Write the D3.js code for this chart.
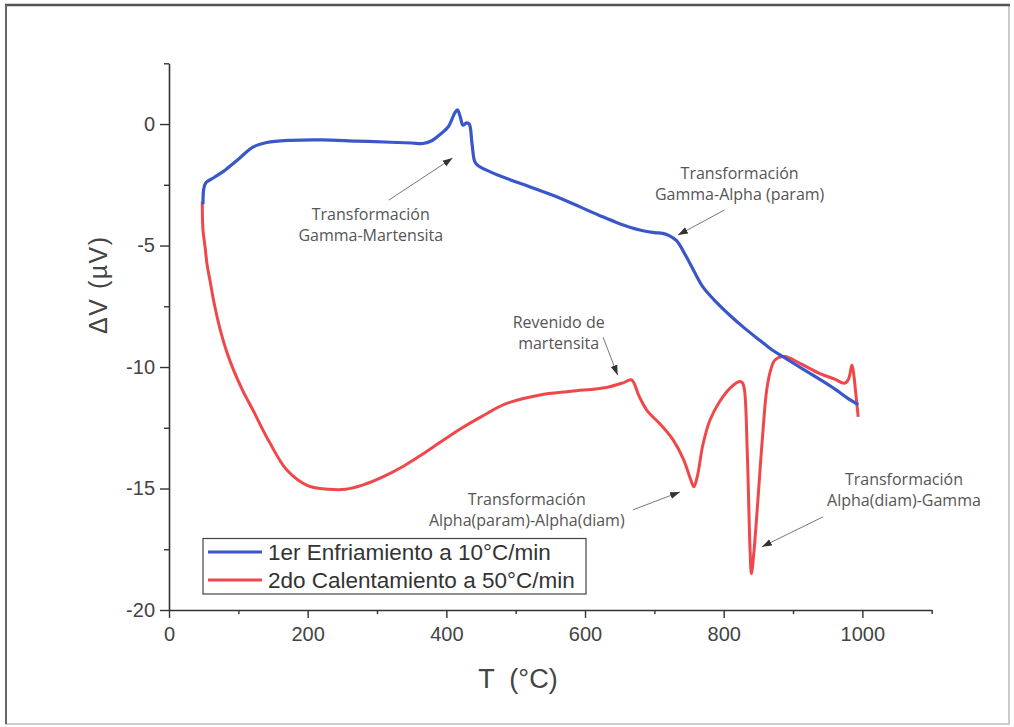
<!DOCTYPE html>
<html>
<head>
<meta charset="utf-8">
<script src="https://cdn.jsdelivr.net/npm/d3@7"></script>
<style>
  html, body { margin: 0; padding: 0; background: #fff; }
  svg { display: block; }
</style>
</head>
<body>
<svg id="chart" width="1014" height="727"></svg>
<script>
// Series: temperature T (°C) and signal ΔV (µV)
const cooling = [
  [49,-3.3],[50,-2.7],[53,-2.42],[65,-2.2],[78,-1.96],[100,-1.45],[121,-0.95],[141,-0.76],
  [175,-0.67],[220,-0.65],[270,-0.7],[320,-0.75],[350,-0.78],[366,-0.8],[378,-0.7],[390,-0.45],
  [403,-0.1],[412,0.45],[416,0.58],[420,0.3],[424,-0.05],[429,0.05],[433,0.0],[437,-0.8],
  [441,-1.55],[446,-1.72],[470,-2.05],[520,-2.58],[560,-3.0],[592,-3.4],[620,-3.75],[650,-4.1],
  [679,-4.36],[700,-4.47],[712,-4.5],[722,-4.6],[732,-4.8],[745,-5.4],[758,-6.1],[770,-6.7],
  [790,-7.35],[810,-7.9],[830,-8.4],[852,-8.9],[870,-9.3],[890,-9.65],[915,-10.1],[938,-10.5],
  [960,-10.9],[977,-11.25],[991,-11.5],[994,-11.55]
];
const heating = [
  [48,-3.2],[49,-4.36],[52,-5.05],[55,-5.8],[59,-6.42],[66,-7.5],[74,-8.48],[83,-9.35],
  [93,-10.12],[106,-10.95],[121,-11.77],[145,-13.1],[170,-14.24],[200,-14.88],[230,-15.03],
  [255,-15.03],[280,-14.85],[310,-14.5],[340,-14.05],[365,-13.6],[391,-13.1],[420,-12.55],
  [450,-12.05],[487,-11.5],[535,-11.15],[580,-11.0],[631,-10.84],[655,-10.65],[667,-10.53],
  [678,-11.2],[689,-11.77],[710,-12.4],[727,-13.0],[742,-13.8],[752,-14.6],[757,-14.93],
  [762,-14.5],[770,-13.2],[780,-12.2],[794,-11.43],[810,-10.85],[823,-10.6],[827,-10.65],
  [830,-10.95],[834,-13.5],[838,-17.5],[840,-18.5],[843,-17.8],[848,-16.0],[852,-14.4],
  [857,-12.5],[862,-10.95],[868,-10.1],[874,-9.71],[888,-9.57],[910,-9.85],[938,-10.26],
  [960,-10.5],[974,-10.67],[980,-10.5],[985,-9.92],[988,-10.4],[990,-10.95],[992,-11.5],[994,-12.05]
];
const seriesNames = ["1er Enfriamiento a 10°C/min", "2do Calentamiento a 50°C/min"];
const xTicks = [0, 200, 400, 600, 800, 1000];
const xMinor = [100, 300, 500, 700, 900, 1100];
const yTicks = [0, -5, -10, -15, -20];
const yMinor = [2.5, -2.5, -7.5, -12.5, -17.5];

// Callouts: label lines, label anchor, arrow start and arrow tip (data units)
const callouts = [
  { lines: ["Transformación", "Gamma-Martensita"], at: [291, -3.95], from: [317, -3.13], to: [409, -1.4] },
  { lines: ["Transformación", "Gamma-Alpha (param)"], at: [823, -2.26], from: [801, -3.54], to: [734, -4.57] },
  { lines: ["Revenido de", "martensita"], at: [562, -8.4], from: [626, -8.77], to: [647, -10.33] },
  { lines: ["Transformación", "Alpha(param)-Alpha(diam)"], at: [516, -15.68], from: [669, -15.88], to: [737, -15.14] },
  { lines: ["Transformación", "Alpha(diam)-Gamma"], at: [1060, -14.86], from: [943, -16.17], to: [855, -17.4] }
];

const colors = ["#3a57c9", "#f0474b"];
const svg = d3.select("#chart");

// outer frame
const frame = svg.append("g");
frame.append("rect").attr("x", 6).attr("y", 5).attr("width", 1003).attr("height", 719)
  .attr("fill", "#fff").attr("stroke", "#bbb").attr("stroke-width", 1.5);
frame.append("line").attr("x1", 5).attr("x2", 1010).attr("y1", 5).attr("y2", 5)
  .attr("stroke", "#555").attr("stroke-width", 2.5);
frame.append("line").attr("x1", 6).attr("x2", 6).attr("y1", 5).attr("y2", 724)
  .attr("stroke", "#666").attr("stroke-width", 2);

const x = d3.scaleLinear().domain([0, 1100]).range([169, 931.7]);
const y = d3.scaleLinear().domain([-20, 2.5]).range([610, 63.3]);

const axisColor = "#333";
const tickFont = "'Liberation Sans', Arial, sans-serif";
const plain = d => String(d);

// x axis
const gx = svg.append("g").attr("transform", `translate(0,${y(-20)})`);
gx.call(d3.axisBottom(x).tickValues(xTicks).tickFormat(plain).tickSize(8).tickSizeOuter(0).tickPadding(9));
gx.append("g").call(d3.axisBottom(x).tickValues(xMinor).tickSize(4).tickSizeOuter(0).tickFormat(""))
  .select(".domain").remove();

// y axis
const gy = svg.append("g").attr("transform", `translate(${x(0)},0)`);
gy.call(d3.axisLeft(y).tickValues(yTicks).tickFormat(plain).tickSize(9).tickSizeOuter(0).tickPadding(5));
gy.append("g").call(d3.axisLeft(y).tickValues(yMinor).tickSize(5).tickSizeOuter(0).tickFormat(""))
  .select(".domain").remove();

svg.selectAll(".domain").attr("stroke", axisColor).attr("stroke-width", 1.6);
svg.selectAll(".tick line").attr("stroke", axisColor).attr("stroke-width", 1.4);
svg.selectAll(".tick text").attr("fill", "#444").style("font-family", tickFont).style("font-size", "20px");

// axis titles
svg.append("text")
  .attr("transform", `translate(107,${(y(-20) + y(2.5)) / 2 - 52}) rotate(-90)`)
  .attr("text-anchor", "middle")
  .attr("fill", "#444").style("font-family", tickFont).style("font-size", "25px")
  .style("letter-spacing", "1.5px")
  .text("ΔV (µV)");
svg.append("text")
  .attr("x", 518).attr("y", 688)
  .attr("text-anchor", "middle")
  .attr("fill", "#444").style("font-family", tickFont).style("font-size", "27px")
  .attr("xml:space", "preserve")
  .text("T  (°C)");

// curves
const line = d3.line().x(d => x(d[0])).y(d => y(d[1])).curve(d3.curveCatmullRom.alpha(0.5));
svg.append("path").datum(heating).attr("d", line)
  .attr("fill", "none").attr("stroke", colors[1]).attr("stroke-width", 3).attr("stroke-linejoin", "round");
svg.append("path").datum(cooling).attr("d", line)
  .attr("fill", "none").attr("stroke", colors[0]).attr("stroke-width", 3.2).attr("stroke-linejoin", "round");

// callouts
const defs = svg.append("defs");
defs.append("marker").attr("id", "arrowhead")
  .attr("viewBox", "0 0 10 10").attr("refX", 10).attr("refY", 5)
  .attr("markerWidth", 10).attr("markerHeight", 10).attr("markerUnits", "userSpaceOnUse")
  .attr("orient", "auto")
  .append("path").attr("d", "M0,1.5 L10,5 L0,8.5 Z").attr("fill", "#333");

const notes = svg.append("g");
callouts.forEach(c => {
  notes.append("line")
    .attr("x1", x(c.from[0])).attr("y1", y(c.from[1]))
    .attr("x2", x(c.to[0])).attr("y2", y(c.to[1]))
    .attr("stroke", "#777").attr("stroke-width", 1)
    .attr("marker-end", "url(#arrowhead)");
  const t = notes.append("text")
    .attr("x", x(c.at[0])).attr("y", y(c.at[1]))
    .attr("text-anchor", "middle")
    .attr("fill", "#555").style("font-family", "'Open Sans', sans-serif").style("font-size", "16px");
  c.lines.forEach((s, i) => {
    t.append("tspan").attr("x", x(c.at[0])).attr("dy", i === 0 ? 0 : 21).text(s);
  });
});

// legend
const lg = svg.append("g");
lg.append("rect").attr("x", 203).attr("y", 538.5).attr("width", 383).attr("height", 55.5)
  .attr("fill", "#fff").attr("stroke", "#444").attr("stroke-width", 1.2);
seriesNames.forEach((name, i) => {
  const yy = 552 + i * 28;
  lg.append("line").attr("x1", 208).attr("x2", 262).attr("y1", yy).attr("y2", yy)
    .attr("stroke", colors[i]).attr("stroke-width", 3.2);
  lg.append("text").attr("x", 268).attr("y", yy + 8)
    .attr("fill", "#333").style("font-family", tickFont).style("font-size", "22.5px")
    .text(name);
});
</script>
</body>
</html>
